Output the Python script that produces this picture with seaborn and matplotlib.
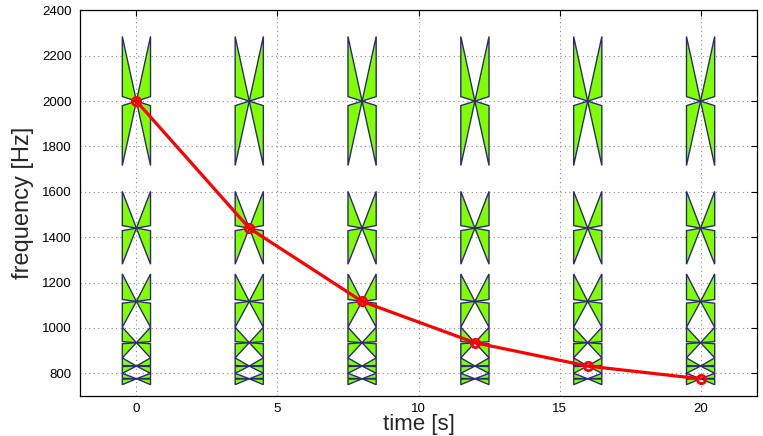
import matplotlib
matplotlib.use("Agg")
import matplotlib.pyplot as plt
import seaborn as sns
import pandas as pd

# --- data ---
times = [0, 4, 8, 12, 16, 20]
freqs = [2000, 1440, 1117, 935, 832, 776]          # red curve (Hz)
bow_centers = [2000, 1440, 1117, 935, 832, 776]    # bowtie centres (Hz)
bow_tops = [2285, 1602, 1238, 1003, 868, 800]      # upper extent (Hz)
bow_bottoms = [1716, 1281, 1003, 868, 800, 750]    # lower extent (Hz)
bow_halfwidth = 0.5                                # seconds
notch_frac = 0.07
xticks = [0, 5, 10, 15, 20]
yticks = [800, 1000, 1200, 1400, 1600, 1800, 2000, 2200, 2400]

sns.set_style("white")
plt.rcParams['font.family'] = ['Liberation Sans', 'DejaVu Sans']

fig = plt.figure(figsize=(7.63, 4.36), dpi=100)
ax = fig.add_axes([80/763, 1-396/436, (757-80)/763, (396-10.4)/436])

green = (0.5, 1.0, 0.0)
edge = (0.17, 0.17, 0.45)

for t in times:
    L, R = t - bow_halfwidth, t + bow_halfwidth
    for c, top, bot in zip(bow_centers, bow_tops, bow_bottoms):
        du = notch_frac * (top - c)
        dd = notch_frac * (c - bot)
        for xe in (L, R):
            ax.fill([xe, xe, t], [top, c + du, c], facecolor=green,
                    edgecolor=edge, linewidth=1.0, zorder=2)
            ax.fill([xe, xe, t], [bot, c - dd, c], facecolor=green,
                    edgecolor=edge, linewidth=1.0, zorder=2)

df = pd.DataFrame({"time": times, "freq": freqs})
sns.lineplot(data=df, x="time", y="freq", ax=ax, color="red", linewidth=2.3,
             marker="o", markersize=6, markerfacecolor="none",
             markeredgecolor="red", markeredgewidth=2, zorder=5)

ax.set_xlim(-2, 22)
ax.set_ylim(700, 2400)
ax.set_xticks(xticks)
ax.set_yticks(yticks)
ax.grid(True, linestyle=(0, (1, 3)), color="#8c8c8c", linewidth=0.8)
ax.set_axisbelow(True)
ax.tick_params(direction="in", length=4, width=0.8, top=True, right=True,
               labelsize=9.5, colors="black")
ax.tick_params(axis="x", pad=5)
ax.tick_params(axis="y", pad=6)
for s in ax.spines.values():
    s.set_color("black")
    s.set_linewidth(0.9)
    s.set_visible(True)

ax.set_xlabel("time [s]", fontsize=16, labelpad=-1)
ax.set_ylabel("frequency [Hz]", fontsize=17, labelpad=6)

fig.savefig("out.png", dpi=100)
